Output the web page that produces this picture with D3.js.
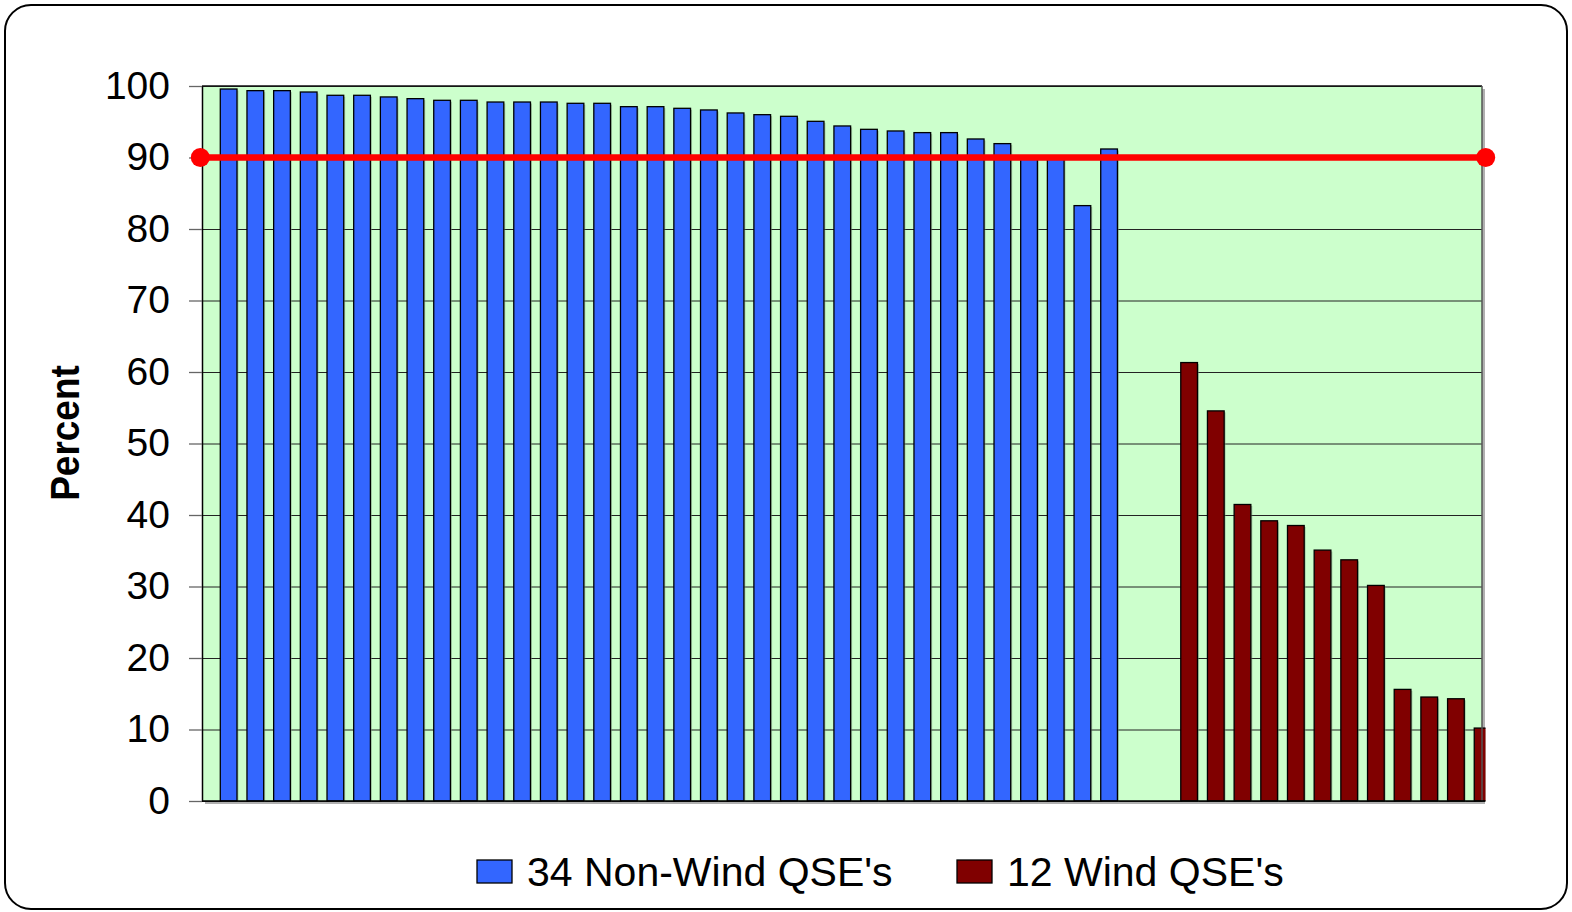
<!DOCTYPE html>
<html lang="en">
<head>
<script src="https://d3js.org/d3.v7.min.js"></script>
<style>
body { margin: 0; background: #fff; }
text { font-family: "Liberation Sans", Arial, sans-serif; }
</style>
</head>
<body>
<svg width="1572" height="912"></svg>
<script>
// values
var nonWind = [99.58, 99.35, 99.35, 99.16, 98.70, 98.70, 98.47, 98.23, 98.0, 98.0,
               97.76, 97.76, 97.76, 97.58, 97.58, 97.11, 97.11, 96.88, 96.65, 96.23,
               95.99, 95.76, 95.06, 94.41, 93.94, 93.71, 93.48, 93.48, 92.59, 91.94,
               90.1, 90.0, 83.27, 91.19];
var wind = [61.32, 54.56, 41.47, 39.19, 38.53, 35.09, 33.73, 30.15, 15.61, 14.54, 14.30, 10.20];
var gapSlots = 2;
var target = 90;
var yTicks = [0, 10, 20, 30, 40, 50, 60, 70, 80, 90, 100];
var seriesNames = ["34 Non-Wind QSE's", "12 Wind QSE's"];
var seriesColors = ["#3366FF", "#800000"];

var svg = d3.select("svg");

// outer rounded frame
svg.append("rect")
  .attr("x", 5).attr("y", 5)
  .attr("width", 1562).attr("height", 904)
  .attr("rx", 26).attr("ry", 26)
  .attr("fill", "#fff")
  .attr("stroke", "#000")
  .attr("stroke-width", 2);

var pLeft = 202, pRight = 1482, pTop = 86, pBottom = 801;

// build slot table: blue bars, empty gap, red bars
var rows = [];
nonWind.forEach(function(v) { rows.push({ s: 0, v: v }); });
for (var i = 0; i < gapSlots; i++) rows.push(null);
wind.forEach(function(v) { rows.push({ s: 1, v: v }); });

var x = d3.scaleBand().domain(d3.range(rows.length)).range([215.3, 215.3 + rows.length * 26.68]);
var barW = x.bandwidth() * 0.626;
var y = d3.scaleLinear().domain([0, 100]).range([pBottom, pTop]);

// plot area shadow + background
svg.append("rect")
  .attr("x", pLeft + 3).attr("y", pTop + 3)
  .attr("width", pRight - pLeft).attr("height", pBottom - pTop)
  .attr("fill", "#b0b0b0");
svg.append("rect")
  .attr("x", pLeft).attr("y", pTop)
  .attr("width", pRight - pLeft).attr("height", pBottom - pTop)
  .attr("fill", "#CCFFCC");

// gridlines
svg.append("g")
  .attr("transform", "translate(" + pLeft + ",0)")
  .call(d3.axisLeft(y).tickValues(yTicks).tickSize(-(pRight - pLeft)).tickFormat(""))
  .call(function(g) {
    g.select(".domain").remove();
    g.selectAll("line").attr("stroke", "#222").attr("stroke-width", 1);
  });

svg.append("clipPath").attr("id", "plotclip")
  .append("rect")
  .attr("x", pLeft).attr("y", 0)
  .attr("width", pRight - pLeft + 3.5).attr("height", pBottom + 1);

var bars = svg.append("g").attr("clip-path", "url(#plotclip)");
var data = rows.map(function(d, i) { return d ? { i: i, s: d.s, v: d.v } : null; })
  .filter(function(d) { return d; });

// soft bar shadow
bars.selectAll(".shadow")
  .data(data)
  .enter().append("rect")
  .attr("class", "shadow")
  .attr("x", function(d) { return x(d.i) + (x.bandwidth() - barW) / 2 + 1.5; })
  .attr("y", function(d) { return y(d.v) + 1.5; })
  .attr("width", barW)
  .attr("height", function(d) { return pBottom - y(d.v); })
  .attr("fill", "#7a9a7a")
  .attr("opacity", 0.5);

bars.selectAll(".bar")
  .data(data)
  .enter().append("rect")
  .attr("class", "bar")
  .attr("x", function(d) { return x(d.i) + (x.bandwidth() - barW) / 2; })
  .attr("y", function(d) { return y(d.v); })
  .attr("width", barW)
  .attr("height", function(d) { return pBottom - y(d.v); })
  .attr("fill", function(d) { return seriesColors[d.s]; })
  .attr("stroke", "#000")
  .attr("stroke-width", 1.3);

// plot border (top, right)
svg.append("line")
  .attr("x1", pLeft).attr("x2", pRight).attr("y1", pTop).attr("y2", pTop)
  .attr("stroke", "#111").attr("stroke-width", 1.5);
svg.append("line")
  .attr("x1", pRight).attr("x2", pRight).attr("y1", pTop).attr("y2", pBottom)
  .attr("stroke", "#555").attr("stroke-width", 1.5);

// bottom axis line
svg.append("line")
  .attr("x1", pLeft).attr("x2", pRight + 3).attr("y1", pBottom).attr("y2", pBottom)
  .attr("stroke", "#000").attr("stroke-width", 1.5);

// y axis with labels
svg.append("g")
  .attr("transform", "translate(" + pLeft + ",0)")
  .call(d3.axisLeft(y).tickValues(yTicks).tickSize(13).tickSizeOuter(0).tickPadding(19))
  .call(function(g) {
    g.select(".domain").attr("stroke", "#000").attr("stroke-width", 1.5);
    g.selectAll(".tick line").attr("stroke", "#666").attr("stroke-width", 1.3);
    g.selectAll(".tick text")
      .attr("font-size", "39px")
      .attr("font-family", "'Liberation Sans', Arial, sans-serif")
      .attr("fill", "#000");
  });

// target line at 90
var tx = d3.scalePoint().domain(["start", "end"]).range([200.3, 1485.7]);
var targetPts = [{ k: "start", v: target }, { k: "end", v: target }];
svg.append("path")
  .datum(targetPts)
  .attr("d", d3.line().x(function(d) { return tx(d.k); }).y(function(d) { return y(d.v); }))
  .attr("stroke", "#FF0000")
  .attr("stroke-width", 6.5)
  .attr("fill", "none");
svg.selectAll(".dot")
  .data(targetPts)
  .enter().append("circle")
  .attr("class", "dot")
  .attr("cx", function(d) { return tx(d.k); })
  .attr("cy", function(d) { return y(d.v); })
  .attr("r", 9.5)
  .attr("fill", "#FF0000");

// y axis title
svg.append("text")
  .attr("transform", "translate(79,433) rotate(-90) scale(1,1.12)")
  .attr("text-anchor", "middle")
  .attr("font-size", "37px")
  .attr("font-weight", "bold")
  .text("Percent");

// legend
var legendX = [477, 957];
var legend = svg.selectAll(".legend")
  .data(seriesNames)
  .enter().append("g")
  .attr("class", "legend")
  .attr("transform", function(d, i) { return "translate(" + legendX[i] + ",0)"; });
legend.append("rect")
  .attr("x", 0).attr("y", 860)
  .attr("width", 35).attr("height", 23)
  .attr("fill", function(d, i) { return seriesColors[i]; })
  .attr("stroke", "#000").attr("stroke-width", 1.3);
legend.append("text")
  .attr("x", 50).attr("y", 886)
  .attr("font-size", "41px")
  .text(function(d) { return d; });
</script>
</body>
</html>
